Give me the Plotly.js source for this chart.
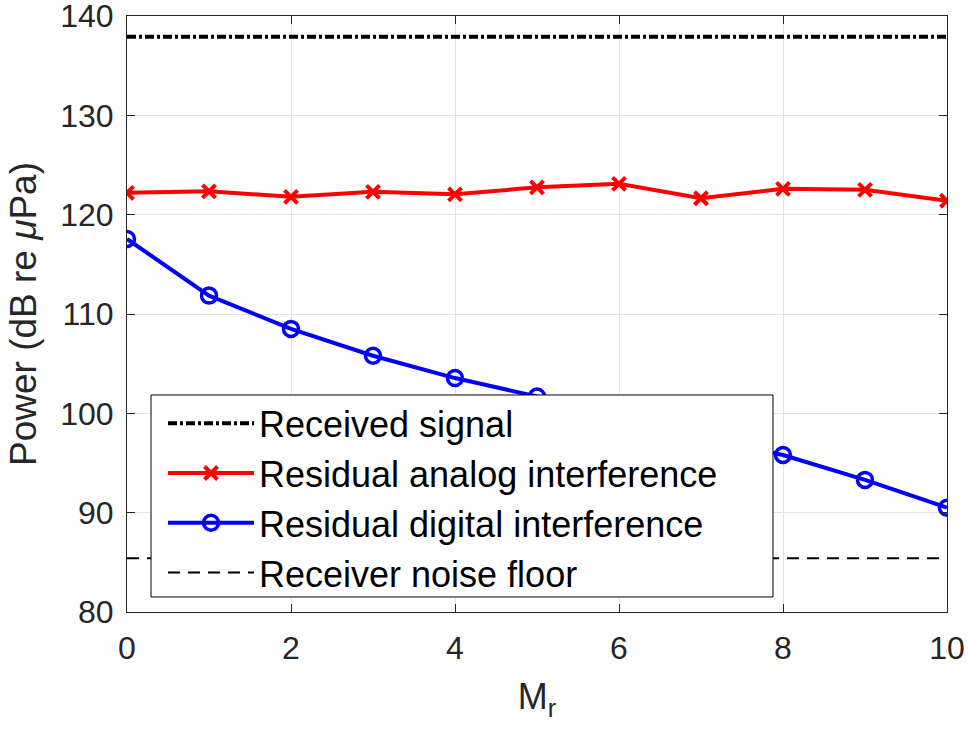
<!DOCTYPE html>
<html>
<head>
<meta charset="utf-8">
<script src="https://cdn.plot.ly/plotly-3.0.1.min.js"></script>
<style>
html,body{margin:0;padding:0;background:#fff;}
#chart{width:968px;height:734px;}
</style>
</head>
<body>
<div id="chart"></div>
<script>
// Data
const Mr = [0, 1, 2, 3, 4, 5, 6, 7, 8, 9, 10];
const receivedSignal = [137.9, 137.9, 137.9, 137.9, 137.9, 137.9, 137.9, 137.9, 137.9, 137.9, 137.9];
const residualAnalog = [122.2, 122.35, 121.8, 122.3, 122.05, 122.75, 123.1, 121.65, 122.6, 122.5, 121.4];
const residualDigital = [117.55, 111.85, 108.5, 105.8, 103.55, 101.7, 99.6, 97.6, 95.8, 93.3, 90.5];
const noiseFloor = [85.4, 85.4, 85.4, 85.4, 85.4, 85.4, 85.4, 85.4, 85.4, 85.4, 85.4];
const seriesNames = ["Received signal", "Residual analog interference", "Residual digital interference", "Receiver noise floor"];
const xTicks = [0, 2, 4, 6, 8, 10];
const yTicks = [80, 90, 100, 110, 120, 130, 140];

const FONT = "Liberation Sans, Arial, Helvetica, sans-serif";
const TXT = "#262626";

const traces = [
  {x: Mr, y: receivedSignal, name: seriesNames[0], mode: "lines",
   line: {color: "#000", width: 4, dash: "9px,3px,3px,3px"}},
  {x: Mr, y: residualAnalog, name: seriesNames[1], mode: "lines+markers",
   line: {color: "#ff0000", width: 4},
   marker: {symbol: "x-thin-open", size: 13, color: "#ff0000", line: {color: "#ff0000", width: 4}}},
  {x: Mr, y: residualDigital, name: seriesNames[2], mode: "lines+markers",
   line: {color: "#0000ff", width: 4},
   marker: {symbol: "circle-open", size: 15, color: "#0000ff", line: {color: "#0000ff", width: 3.5}}},
  {x: Mr, y: noiseFloor, name: seriesNames[3], mode: "lines",
   line: {color: "#000", width: 2, dash: "12px,8px"}}
];

const axisCommon = {
  showline: true, linecolor: TXT, linewidth: 1, mirror: "ticks",
  ticks: "inside", ticklen: 8, tickwidth: 1, tickcolor: TXT,
  showgrid: true, gridcolor: "#e3e3e3", gridwidth: 1,
  zeroline: false, ticklabeloverflow: "allow",
  tickfont: {family: FONT, size: 32, color: TXT}
};

const layout = {
  width: 968, height: 734,
  margin: {l: 127, r: 21, t: 16, b: 122},
  paper_bgcolor: "#fff", plot_bgcolor: "#fff",
  font: {family: FONT, color: TXT},
  showlegend: true,
  xaxis: Object.assign({}, axisCommon, {
    range: [0, 10], tickvals: xTicks, ticktext: xTicks.map(String),
    ticklabelstandoff: 8,
    title: {text: "M<sub>r</sub>", font: {family: FONT, size: 36, color: TXT}, standoff: 18}
  }),
  yaxis: Object.assign({}, axisCommon, {
    range: [80, 140], tickvals: yTicks, ticktext: yTicks.map(String),
    ticklabelstandoff: 6,
    title: {text: "Power (dB re <i>μ</i>Pa)", font: {family: FONT, size: 37, color: TXT}, standoff: 12}
  }),
  shapes: [{
    type: "rect", xref: "paper", yref: "paper", layer: "above",
    x0: 0.0293, x1: 0.7878, y0: 0.0252, y1: 0.3641,
    fillcolor: "#fff", line: {color: "#000", width: 1}
  }],
  legend: {
    x: 0.0439, y: 0.367, xanchor: "left", yanchor: "top",
    bgcolor: "rgba(0,0,0,0)", borderwidth: 0,
    font: {family: FONT, size: 36, color: "#000"},
    itemwidth: 86, tracegroupgap: 0
  }
};

Plotly.newPlot("chart", traces, layout, {displayModeBar: false, staticPlot: true});
</script>
</body>
</html>
